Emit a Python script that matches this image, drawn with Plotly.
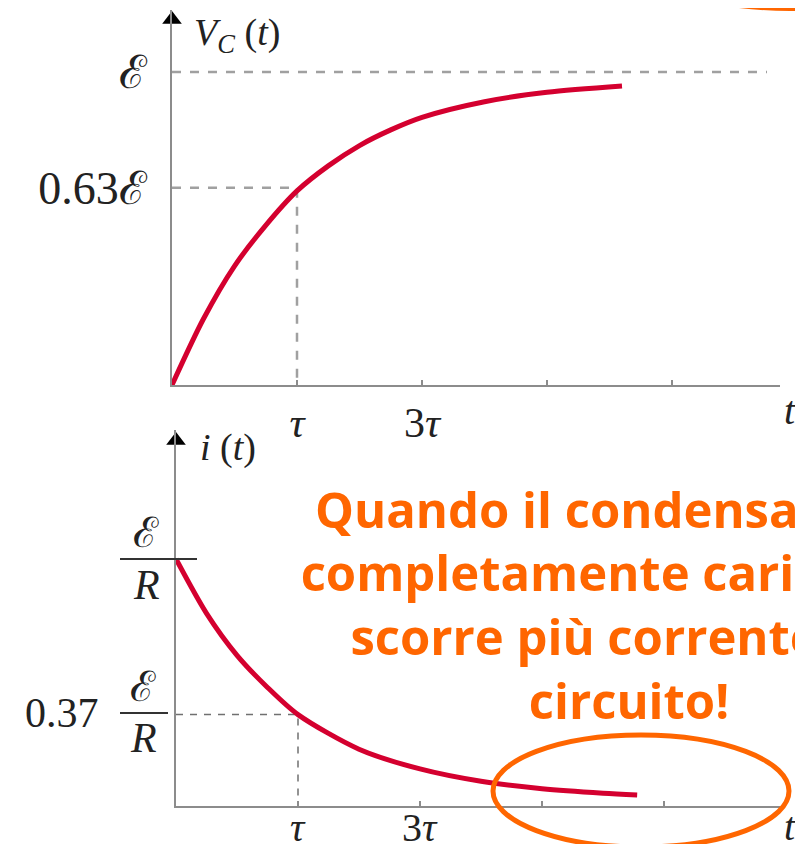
import plotly.graph_objects as go

# values (time in units of tau)
t_carica = [0, 0.25, 0.5, 0.75, 1.0, 1.25, 1.5, 1.75, 2.0, 2.5, 3.0, 3.6]
v_carica = [0, 0.21, 0.38, 0.51, 0.62, 0.70, 0.765, 0.815, 0.855, 0.905, 0.935, 0.955]
t_corrente = [0, 0.25, 0.5, 0.75, 1.0, 1.5, 2.0, 2.5, 3.0, 3.5, 3.78]
i_corrente = [1, 0.78, 0.61, 0.48, 0.37, 0.23, 0.15, 0.10, 0.07, 0.052, 0.045]

tick_vals = [1, 2, 3, 4]
tick_text = ['<i>τ</i>', '3<i>τ</i>', '', '']
livello_v = 0.63
livello_i = 0.37
nota = 'Quando il condensatore è<br>completamente carico non<br>scorre più corrente nel<br>circuito!'

# the page body keeps an 8px margin all round: keep the figure inside the window
OFF = 8
W, H = 803 - 2 * OFF, 852 - 2 * OFF
def px(x):
    return (x - OFF) / W
def py(y):
    return 1 - (y - OFF) / H

ROSSO = '#d4002f'
ARANCIO = '#ff6600'
GRIGIO = '#8c8c8c'
SERIF = 'Liberation Serif'
NERO = '#222'

fig = go.Figure()

# top: capacitor voltage
fig.add_trace(go.Scatter(x=[0, 4.76], y=[1, 1], mode='lines', xaxis='x', yaxis='y',
                         line=dict(color='#a0a0a0', width=2.5, dash='9px,9px')))
fig.add_trace(go.Scatter(x=[0, 1, 1], y=[livello_v, livello_v, 0], mode='lines', xaxis='x', yaxis='y',
                         line=dict(color='#a0a0a0', width=2.5, dash='9px,9px')))
fig.add_trace(go.Scatter(x=t_carica, y=v_carica, mode='lines', xaxis='x', yaxis='y',
                         line=dict(color=ROSSO, width=5, shape='spline', smoothing=0.8)))
fig.add_trace(go.Scatter(x=[0], y=[1.168], mode='markers', xaxis='x', yaxis='y', cliponaxis=False,
                         marker=dict(symbol='triangle-up', size=17, color='black')))

# bottom: current
fig.add_trace(go.Scatter(x=[0, 1, 1], y=[livello_i, livello_i, 0], mode='lines', xaxis='x2', yaxis='y2',
                         line=dict(color='#707070', width=1.5, dash='7px,7px')))
fig.add_trace(go.Scatter(x=t_corrente, y=i_corrente, mode='lines', xaxis='x2', yaxis='y2',
                         line=dict(color=ROSSO, width=5, shape='spline', smoothing=0.8)))
fig.add_trace(go.Scatter(x=[0], y=[1.48], mode='markers', xaxis='x2', yaxis='y2', cliponaxis=False,
                         marker=dict(symbol='triangle-up', size=17, color='black')))

# orange note on a full-page overlay (pixel units), clipped at the page edge
fig.add_trace(go.Scatter(x=[629], y=[611], mode='text', text=[nota], textposition='middle center',
                         xaxis='x3', yaxis='y3', cliponaxis=True,
                         textfont=dict(family='Open Sans', size=49, color=ARANCIO, weight='bold')))

asse_x = dict(showline=True, linecolor=GRIGIO, linewidth=2, showgrid=False, zeroline=False,
              tickvals=tick_vals, ticktext=tick_text, ticks='inside', ticklen=5, tickcolor=GRIGIO,
              tickwidth=1.5, tickfont=dict(family=SERIF, size=42, color=NERO), fixedrange=True)
asse_y = dict(showline=True, linecolor=GRIGIO, linewidth=2, showgrid=False, zeroline=False,
              fixedrange=True)

fig.update_layout(
    width=W, height=H,
    margin=dict(l=0, r=0, t=0, b=0),
    paper_bgcolor='white', plot_bgcolor='rgba(0,0,0,0)',
    showlegend=False,
    xaxis=dict(asse_x, domain=[px(172), px(780)], range=[0, 608 / 125], anchor='y'),
    yaxis=dict(asse_y, domain=[py(385), py(10)], range=[0, 375 / 313], anchor='x',
               tickvals=[livello_v, 1], ticktext=['0.63ℰ', 'ℰ'], ticks='',
               ticklabelstandoff=14,
               tickfont=dict(family=SERIF, size=46, color=NERO)),
    xaxis2=dict(asse_x, domain=[px(176), px(780)], range=[0, 604 / 122], anchor='y2',
                showticklabels=False),
    yaxis2=dict(asse_y, domain=[py(806), py(430)], range=[0, 376 / 247], anchor='x2',
                showticklabels=False, ticks=''),
    xaxis3=dict(domain=[0, 1], range=[OFF, 803 - OFF], anchor='y3', visible=False, fixedrange=True),
    yaxis3=dict(domain=[0, 1], range=[852 - OFF, OFF], anchor='x3', visible=False, fixedrange=True),
)

annot = [
    dict(text='<i>V</i><sub><i>C</i></sub> (<i>t</i>)', x=px(192), y=py(8.5), xanchor='left',
         yanchor='top', size=38),
    dict(text='<i>t</i>', x=px(790), y=py(410), xanchor='center', yanchor='middle', size=40),
    dict(text='<i>i</i> (<i>t</i>)', x=px(198), y=py(447), xanchor='left', yanchor='middle', size=38),
    dict(text='<i>t</i>', x=px(790), y=py(851), xanchor='center', yanchor='bottom', size=40),
    dict(text='ℰ', x=px(146), y=py(533), xanchor='center', yanchor='middle', size=42),
    dict(text='<i>R</i>', x=px(146), y=py(585), xanchor='center', yanchor='middle', size=42),
    dict(text='0.37', x=px(62), y=py(713), xanchor='center', yanchor='middle', size=42),
    dict(text='ℰ', x=px(143), y=py(687), xanchor='center', yanchor='middle', size=42),
    dict(text='<i>R</i>', x=px(143), y=py(738), xanchor='center', yanchor='middle', size=42),
]
for a in annot:
    s = a.pop('size')
    fig.add_annotation(xref='paper', yref='paper', showarrow=False,
                       font=dict(family=SERIF, size=s, color=NERO), **a)

# bottom tick labels kept inside the page
for v, txt in zip(tick_vals[:2], tick_text[:2]):
    fig.add_annotation(text=txt, xref='x2', yref='paper', x=v, y=py(851.5), xanchor='center',
                       yanchor='bottom', showarrow=False, font=dict(family=SERIF, size=40, color=NERO))

# fraction bars
fig.add_shape(type='line', xref='paper', yref='paper', x0=px(120), x1=px(197), y0=py(559), y1=py(559),
              line=dict(color='#333', width=2))
fig.add_shape(type='line', xref='paper', yref='paper', x0=px(120), x1=px(168), y0=py(713), y1=py(713),
              line=dict(color='#333', width=2))
# hand-drawn circles, clipped to the page
fig.add_shape(type='circle', xref='x3', yref='y3', x0=493, x1=789, y0=735, y1=847,
              line=dict(color=ARANCIO, width=5))
fig.add_shape(type='circle', xref='x3', yref='y3', x0=600, x1=980, y0=-160, y1=6,
              line=dict(color=ARANCIO, width=10))

fig.write_html("out.html")
